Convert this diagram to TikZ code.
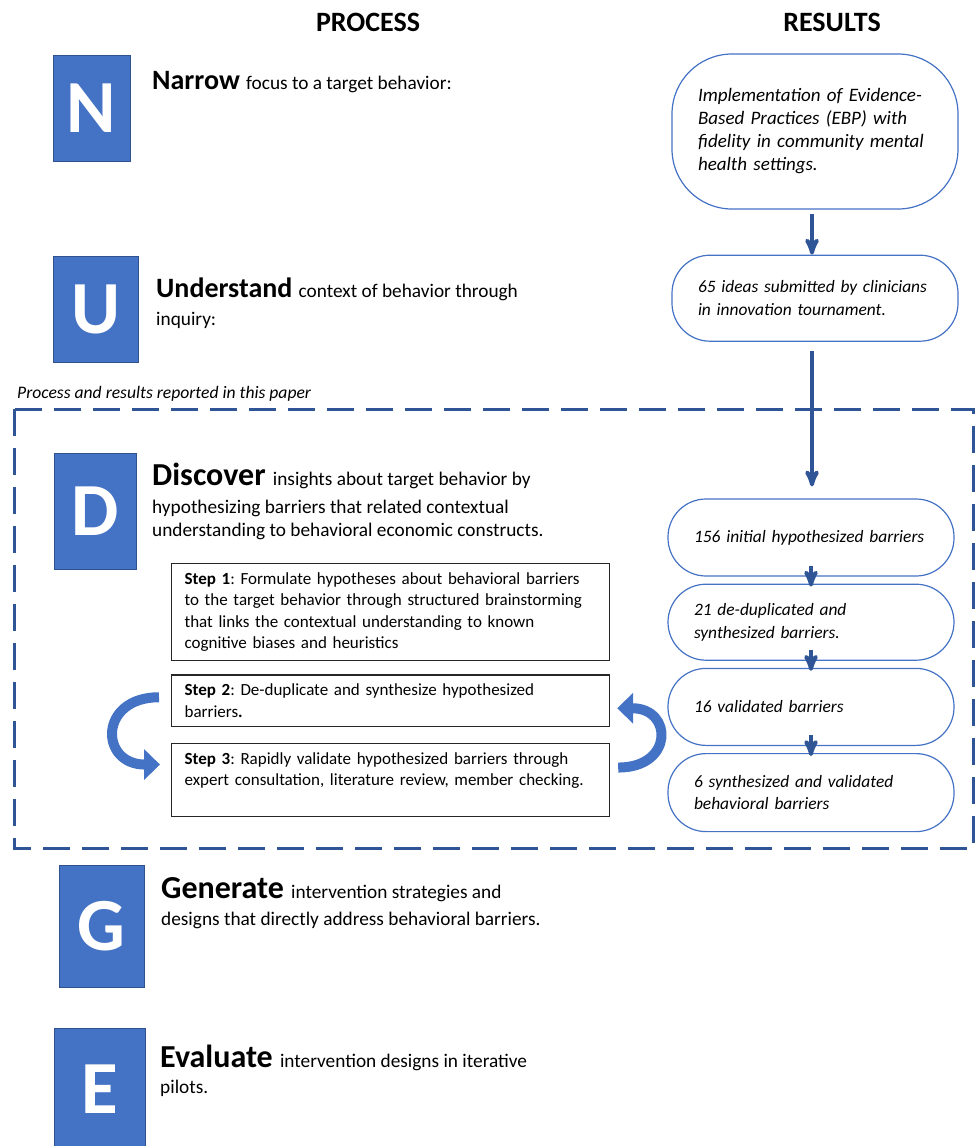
\documentclass[tikz,border=0pt]{standalone}
\usepackage{fontspec}
\setmainfont{Carlito}
\frenchspacing
\usetikzlibrary{positioning, arrows, arrows.meta}
\definecolor{letterblue}{HTML}{4472C4}
\definecolor{edgeblue}{HTML}{2F528F}
\definecolor{darkblue}{HTML}{2F5597}
\newcommand\phasehead[2][28]{{\fontsize{#1}{#1}\selectfont\bfseries #2 }}
\tikzset{>=stealth', node distance=7pt,
  letterbox/.style={rectangle, draw=edgeblue, fill=letterblue, text=white, inner sep=0pt, font=\fontsize{75}{75}\selectfont\bfseries},
  phasetext/.style={anchor=base west, align=left, inner sep=0pt, font=\fontsize{19.3}{22.5}\selectfont},
  stepbox/.style={rectangle, draw=black!85, line width=1.2pt, text width=412pt, inner xsep=13pt, inner ysep=9pt, align=left, font=\fontsize{17}{21.5}\selectfont},
  result/.style={rectangle, rounded corners=38pt, draw=letterblue, line width=1.2pt, text width=234pt, inner xsep=26pt, align=left, font=\fontsize{17.4}{22.5}\selectfont\itshape},
  resarrow/.style={->, line width=4pt, darkblue},
  looparrow/.style={line width=10pt, letterblue, -{Triangle[width=30pt,length=16pt]}}
}

\begin{document}
\begin{tikzpicture}[x=1pt, y=-1pt]
    \useasboundingbox (0,0) rectangle (976,1146);
    \node[anchor=base, font=\fontsize{28}{28}\selectfont\bfseries] (process) at (368,31) {PROCESS};
    \node[anchor=base, font=\fontsize{28}{28}\selectfont\bfseries] (results) at (832,31) {RESULTS};

    % process column, multi-line texts sit on their last line
    \node[letterbox, minimum width=77pt, minimum height=106pt] (narrow) at (91.5,108) {N};
    \node[letterbox, minimum width=85pt, minimum height=106pt] (understand) at (95.5,309) {U};
    \node[letterbox, minimum width=82pt, minimum height=116pt] (discover) at (95,511) {D};
    \node[letterbox, minimum width=85pt, minimum height=122pt] (generate) at (101.5,926) {G};
    \node[letterbox, minimum width=91pt, minimum height=122pt] (evaluate) at (99.5,1089) {E};
    \node[phasetext] (narrowtext) at (152,89) {\phasehead{Narrow}focus to a target behavior:};
    \node[phasetext] (understandtext) at (156,325) {\phasehead{Understand}context of behavior through\\[5.5pt] inquiry:};
    \node[phasetext] (discovertext) at (152,536) {\phasehead[32]{Discover}insights about target behavior by\\[5.5pt] hypothesizing barriers that related contextual\\ understanding to behavioral economic constructs.};
    \node[phasetext] (generatetext) at (161,925) {\phasehead[32]{Generate}intervention strategies and\\[4.5pt] designs that directly address behavioral barriers.};
    \node[phasetext] (evaluatetext) at (160,1093) {\phasehead[32]{Evaluate}intervention designs in iterative\\[3.5pt] pilots.};

    % reported part
    \node[anchor=base west, inner sep=0pt, font=\fontsize{17.6}{20}\selectfont\itshape] (reported) at (17,398) {Process and results reported in this paper};
    \draw[darkblue, line width=3pt, dash pattern=on 27pt off 12pt] (14,409) rectangle (973.5,848);

    \node[stepbox, anchor=north west] (formulate) at (171,563) {\textbf{Step 1}: Formulate hypotheses about behavioral barriers\\ to the target behavior through structured brainstorming\\ that links the contextual understanding to known\\ cognitive biases and heuristics};
    \node[stepbox, below=13pt of formulate] (synthesize) {\textbf{Step 2}: De-duplicate and synthesize hypothesized\\ barriers\textbf{.}};
    \node[stepbox, below=16pt of synthesize] (validate) {\textbf{Step 3}: Rapidly validate hypothesized barriers through\\ expert consultation, literature review, member checking.\\ \mbox{}};
    \draw[looparrow] ([xshift=-12pt,yshift=3.5pt]synthesize.west) to[out=180, in=180, looseness=2.3] ([xshift=-11pt,yshift=15.5pt]validate.west);
    \draw[looparrow] ([xshift=8pt,yshift=12.5pt]validate.east) to[out=0, in=0, looseness=2.4] ([xshift=7pt,yshift=-7.5pt]synthesize.east);

    % results column
    \node[result, rounded corners=60pt, minimum height=155pt, font=\fontsize{19}{23}\selectfont\itshape] (ebp) at (815,131.5) {Implementation of Evidence-\\ Based Practices (EBP) with\\ fidelity in community mental\\ health settings.};
    \node[result, minimum height=86pt, below=45pt of ebp] (ideas) {65 ideas submitted by clinicians\\ in innovation tournament.};
    \node[result, minimum height=77pt] (initial) at (811,537.5) {156 initial hypothesized barriers};
    \node[result, minimum height=76pt, below=of initial] (dedup) {21 de-duplicated and\\ synthesized barriers.};
    \node[result, minimum height=77pt, below=of dedup] (validated) {16 validated barriers};
    \node[result, minimum height=78pt, below=of validated] (final) {6 synthesized and validated\\ behavioral barriers};
    \draw[resarrow, shorten <=4pt] ([xshift=-3pt]ebp.south) -- ([xshift=-3pt]ideas.north);
    \draw[resarrow, shorten <=9pt, shorten >=12pt] ([xshift=-3pt]ideas.south) -- ([xshift=-3pt]ideas.south |- initial.north);
    \draw[resarrow] ([yshift=11pt]initial.south) -- ([yshift=-3pt]dedup.north);
    \draw[resarrow] ([yshift=11pt]dedup.south) -- ([yshift=-3pt]validated.north);
    \draw[resarrow] ([yshift=11pt]validated.south) -- ([yshift=-3pt]final.north);
\end{tikzpicture}
\end{document}
